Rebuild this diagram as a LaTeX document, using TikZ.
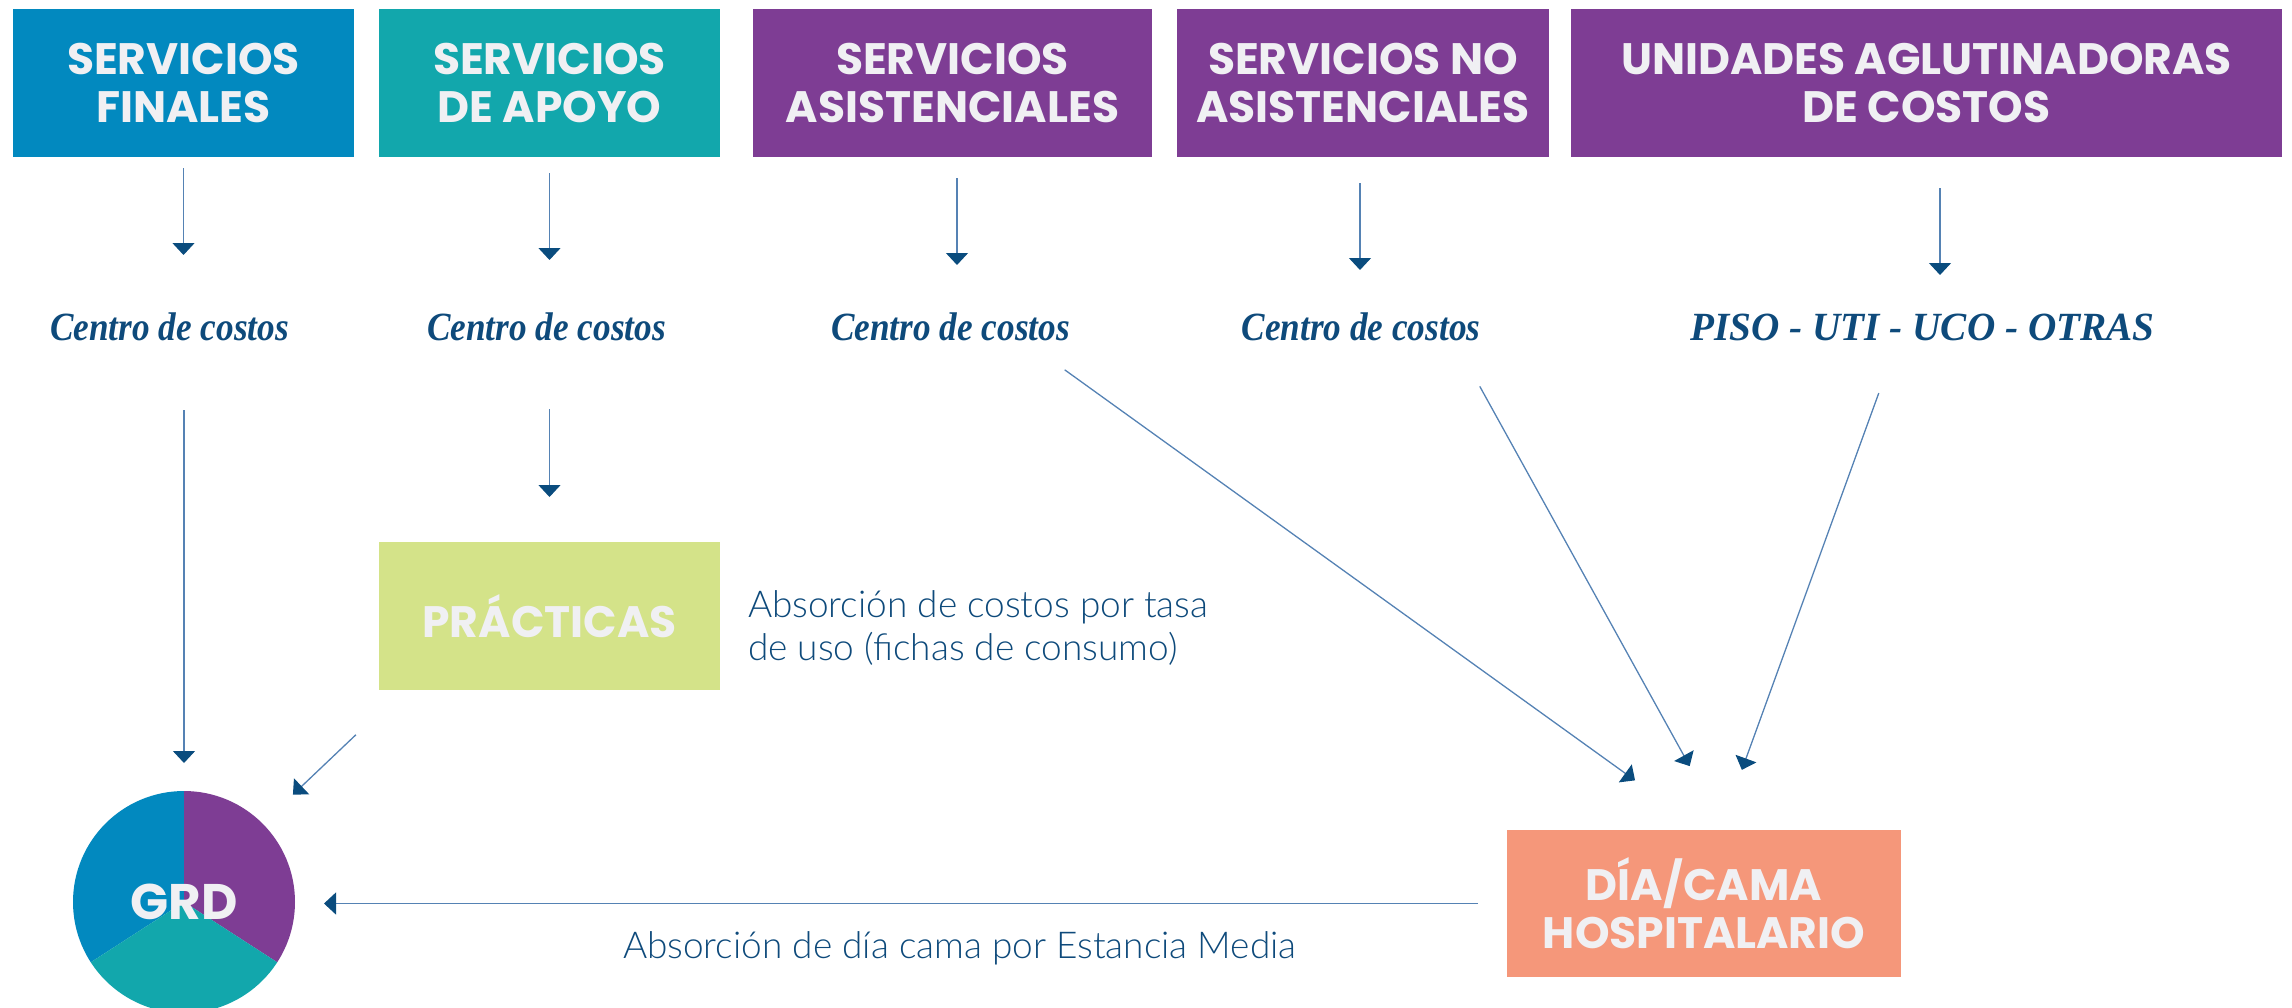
\documentclass[tikz,border=0pt]{standalone}
\usepackage{fontspec}
\usepackage{graphicx}
\usetikzlibrary{arrows.meta,calc}
\newfontfamily\boxfont{Poppins}
\newfontfamily\cfont{Liberation Serif}
\newfontfamily\lfont{Lato Light}
\definecolor{cblue}{RGB}{2,137,191}
\definecolor{cteal}{RGB}{18,167,172}
\definecolor{cpurple}{RGB}{126,61,148}
\definecolor{clime}{RGB}{212,227,137}
\definecolor{csalmon}{RGB}{245,151,122}
\definecolor{ctext}{RGB}{14,74,123}
\definecolor{clabel}{RGB}{240,240,243}
\definecolor{cline}{RGB}{85,130,180}
\definecolor{carrow}{RGB}{10,76,126}
\begin{document}
\begin{tikzpicture}[x=1pt,y=-1pt,
  hdr/.style={rectangle, inner sep=0pt, outer sep=0pt, minimum height=148pt, text=clabel,
    font=\boxfont\bfseries\fontsize{44}{48}\selectfont, align=center},
  cc/.style={inner sep=0pt, outer sep=0pt, anchor=base, text=ctext,
    font=\cfont\bfseries\itshape\fontsize{40}{44}\selectfont, text height=27pt, text depth=7pt},
  lab/.style={inner sep=0pt, outer sep=0pt, text=ctext, font=\lfont\fontsize{37}{43}\selectfont, align=left},
  arr/.style={draw=cline, line width=1.3pt, -{Triangle[width=22pt,length=12pt,color=carrow]}}]
\useasboundingbox (0,0) rectangle (2292,1007);

% header boxes
\node[hdr, fill=cblue, minimum width=341pt] (b1) at (183.5,83) {SERVICIOS\\FINALES};
\node[hdr, fill=cteal, minimum width=341pt] (b2) at (549.5,83) {SERVICIOS\\DE APOYO};
\node[hdr, fill=cpurple, minimum width=399pt] (b3) at (952.5,83) {SERVICIOS\\ASISTENCIALES};
\node[hdr, fill=cpurple, minimum width=372pt] (b4) at (1363,83) {SERVICIOS NO\\ASISTENCIALES};
\node[hdr, fill=cpurple, minimum width=711pt] (b5) at (1926.5,83) {UNIDADES AGLUTINADORAS\\DE COSTOS};

% cost centres
\node[cc] (c1) at (169.5,340) {\scalebox{0.88}[1]{Centro de costos}};
\node[cc] (c2) at (546.5,340) {\scalebox{0.88}[1]{Centro de costos}};
\node[cc] (c3) at (950.5,340) {\scalebox{0.88}[1]{Centro de costos}};
\node[cc] (c4) at (1361,340) {\scalebox{0.88}[1]{Centro de costos}};
\node[cc] (c5) at (1922.5,340) {\scalebox{0.98}[1]{PISO - UTI - UCO - OTRAS}};

% practicas and dia/cama
\node[hdr, fill=clime, minimum width=341pt] (prac) at (549.5,616) {PRÁCTICAS};
\node[hdr, fill=csalmon, minimum width=394pt, minimum height=147pt] (dia) at (1704,903.5) {DÍA/CAMA\\HOSPITALARIO};

\node[lab, anchor=west] (l1) at (748,628) {Absorción de costos por tasa\\de uso (fichas de consumo)};
\node[lab, anchor=base west] (l2) at (623,958) {Absorción de día cama por Estancia Media};

% GRD pie
\coordinate (gc) at (184,902);
\begin{scope}
  \clip (gc) circle[radius=111pt];
  \fill[cblue] (gc) -- +(0,-150) -- +(-150,-150) -- +(-150,97) -- cycle;
  \fill[cpurple] (gc) -- +(0,-150) -- +(150,-150) -- +(150,97) -- cycle;
  \fill[cteal] (gc) -- +(-150,97) -- +(-150,150) -- +(150,150) -- +(150,97) -- cycle;
\end{scope}
\node[circle, minimum size=222pt, inner sep=0pt, outer sep=0pt, text=clabel,
  font=\boxfont\bfseries\fontsize{50}{50}\selectfont] (grd) at (gc) {GRD};

% arrows from headers
\draw[arr, shorten <=11pt, shorten >=58pt] (b1.south) -- (b1.south |- c1.north);
\draw[arr, shorten <=16pt, shorten >=53pt] (b2.south) -- (b2.south |- c2.north);
\draw[arr, shorten <=21pt, shorten >=48pt] ([xshift=4.5pt]b3.south) -- ([xshift=4.5pt]b3.south |- c3.north);
\draw[arr, shorten <=26pt, shorten >=43pt] ([xshift=-3pt]b4.south) -- ([xshift=-3pt]b4.south |- c4.north);
\draw[arr, shorten <=31pt, shorten >=38pt] ([xshift=13.5pt]b5.south) -- ([xshift=13.5pt]b5.south |- c5.north);

% lower arrows
\draw[arr, shorten <=63pt, shorten >=28pt] (grd.north |- c1.south) -- (grd.north);
\draw[arr, shorten <=62pt, shorten >=45pt] (prac.north |- c2.south) -- (prac.north);
\draw[arr, shorten <=65pt, shorten >=42pt] ([xshift=24pt]prac.south west) -- (grd.45);
\draw[arr, shorten <=29pt, shorten >=29pt] (dia.west) -- (grd.east |- dia.west);
\draw[arr, shorten <=39pt, shorten >=85pt] ([xshift=82.5pt]c3.south) -- (dia.north);
\draw[arr, shorten <=45pt, shorten >=73pt] ([xshift=97pt]c4.south) -- ([xshift=21pt]dia.north);
\draw[arr, shorten <=49pt, shorten >=64pt] ([xshift=-27pt]c5.south) -- ([xshift=16pt]dia.north);
\end{tikzpicture}
\end{document}
